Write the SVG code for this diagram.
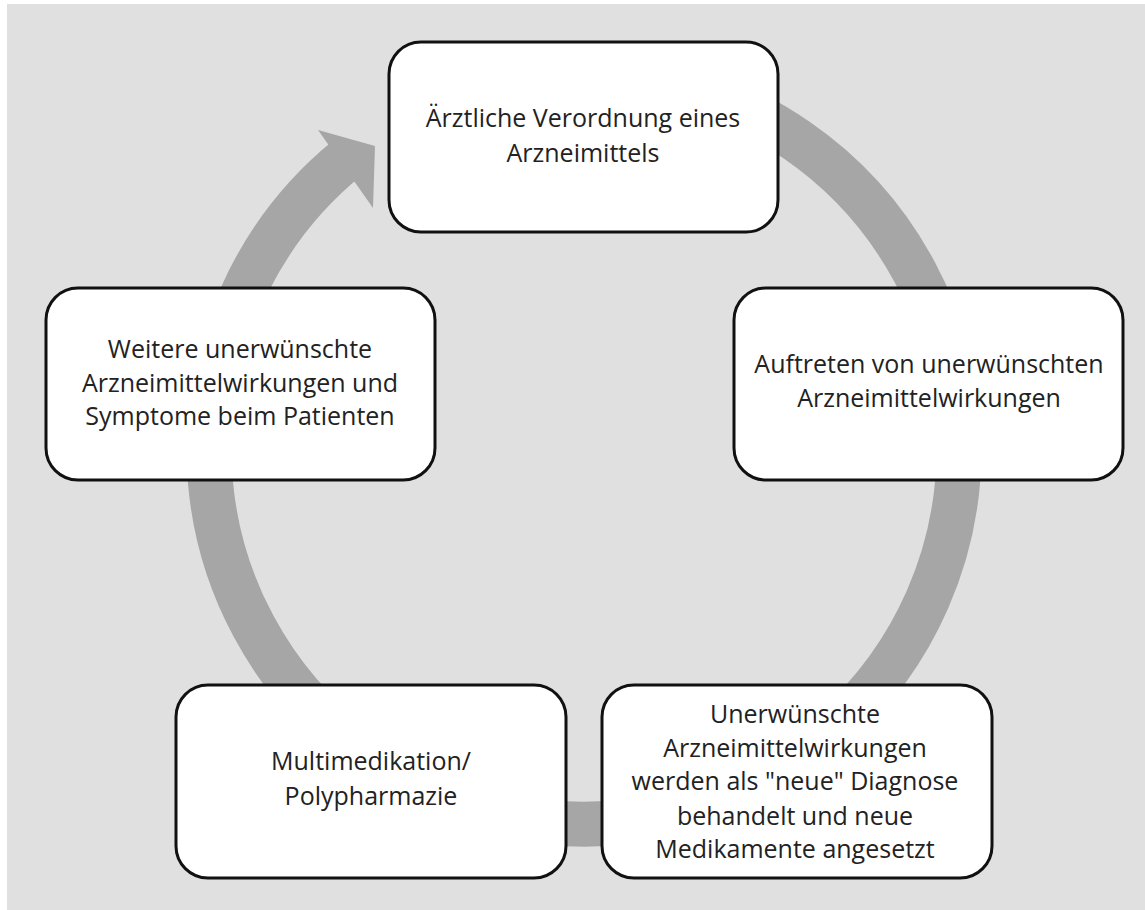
<svg xmlns="http://www.w3.org/2000/svg" width="1145" height="910" viewBox="0 0 1145 910">
  <style>
    .box { fill: #ffffff; stroke: #111111; stroke-width: 3; }
    .label { font-family: "Open Sans", "Liberation Sans", sans-serif; font-size: 25px; fill: #222222; text-anchor: middle; }
    .ring { fill: none; stroke: #a6a6a6; stroke-width: 45; stroke-linecap: butt; }
    .head { fill: #a6a6a6; }
  </style>

  <!-- page background -->
  <rect x="0" y="0" width="1145" height="910" fill="#ffffff"/>
  <rect x="7" y="4" width="1138" height="906" fill="#e0e0e0"/>

  <!-- circular cycle arrow -->
  <g id="connectors">
    <path class="ring" d="M 348 157.6 A 375 375 0 1 0 649.1 79.7"/>
    <polygon class="head" points="318,130 375,146 373,208"/>
  </g>

  <g id="node-verordnung">
    <rect class="box" x="389" y="42" width="389" height="190" rx="32" ry="32"/>
    <text class="label" x="583" y="127">Ärztliche Verordnung eines</text>
    <text class="label" x="583" y="162">Arzneimittels</text>
  </g>

  <g id="node-auftreten">
    <rect class="box" x="734" y="288" width="389" height="192" rx="32" ry="32"/>
    <text class="label" x="929" y="373">Auftreten von unerwünschten</text>
    <text class="label" x="929" y="407">Arzneimittelwirkungen</text>
  </g>

  <g id="node-neue-diagnose">
    <rect class="box" x="602" y="685" width="390" height="193" rx="32" ry="32"/>
    <text class="label" x="795" y="723">Unerwünschte</text>
    <text class="label" x="795" y="757">Arzneimittelwirkungen</text>
    <text class="label" x="795" y="790">werden als "neue" Diagnose</text>
    <text class="label" x="795" y="825">behandelt und neue</text>
    <text class="label" x="795" y="858">Medikamente angesetzt</text>
  </g>

  <g id="node-multimedikation">
    <rect class="box" x="176" y="685" width="390" height="193" rx="32" ry="32"/>
    <text class="label" x="371" y="770">Multimedikation/</text>
    <text class="label" x="371" y="805">Polypharmazie</text>
  </g>

  <g id="node-weitere">
    <rect class="box" x="46" y="288" width="389" height="192" rx="32" ry="32"/>
    <text class="label" x="240" y="358">Weitere unerwünschte</text>
    <text class="label" x="240" y="392">Arzneimittelwirkungen und</text>
    <text class="label" x="240" y="425">Symptome beim Patienten</text>
  </g>
</svg>
